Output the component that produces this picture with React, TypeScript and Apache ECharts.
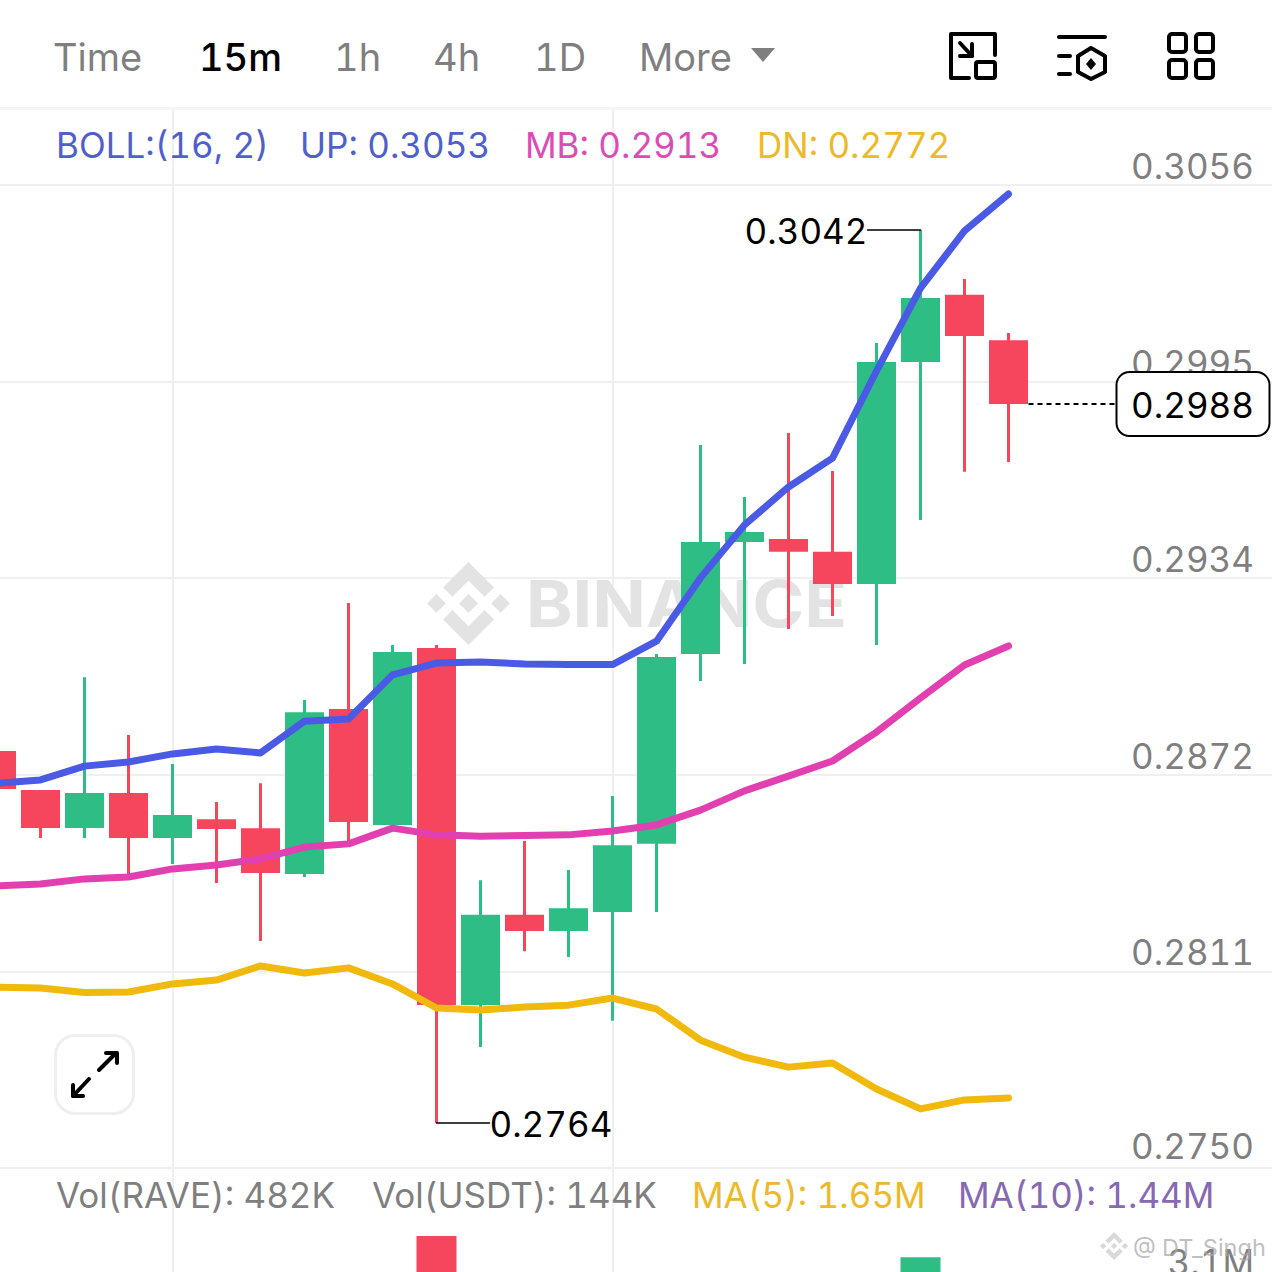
import React, { useEffect, useRef } from "react";
import * as echarts from "echarts";

const FONT = "Inter";
const categories = ["c00","c01","c02","c03","c04","c05","c06","c07","c08","c09","c10","c11","c12","c13","c14","c15","c16","c17","c18","c19","c20","c21","c22","c23","p1","p2","p3","p4","p5","p6"];

// [open, close, low, high]
const candles: number[][] = [
  [0.28798,0.28680,0.28670,0.28817],
  [0.28677,0.28558,0.28527,0.28677],
  [0.28558,0.28667,0.28527,0.29028],
  [0.28667,0.28527,0.28412,0.28848],
  [0.28527,0.28599,0.28446,0.28758],
  [0.28586,0.28555,0.28387,0.28639],
  [0.28558,0.28418,0.28207,0.28698],
  [0.28415,0.28919,0.28406,0.28957],
  [0.28929,0.28577,0.28505,0.29259],
  [0.28568,0.29106,0.28558,0.29128],
  [0.29119,0.28007,0.27640,0.29128],
  [0.28007,0.28288,0.27877,0.28396],
  [0.28288,0.28238,0.28175,0.28518],
  [0.28238,0.28309,0.28157,0.28428],
  [0.28297,0.28505,0.27958,0.28658],
  [0.28509,0.29091,0.28297,0.29100],
  [0.29100,0.29449,0.29016,0.29751],
  [0.29449,0.29480,0.29069,0.29589],
  [0.29458,0.29418,0.29178,0.29788],
  [0.29418,0.29318,0.29218,0.29670],
  [0.29318,0.30009,0.29128,0.30068],
  [0.30009,0.30208,0.29517,0.30420],
  [0.30218,0.30090,0.29667,0.30267],
  [0.30077,0.29878,0.29698,0.30099],
];
const bollUp = [0.28698,0.28708,0.28751,0.28764,0.28789,0.28804,0.28792,0.28891,0.28898,0.29035,0.29072,0.29075,0.29069,0.29067,0.29067,0.29140,0.29337,0.29502,0.29620,0.29710,0.29981,0.30239,0.30417,0.30532];
const bollMb = [0.28378,0.28384,0.28400,0.28406,0.28431,0.28443,0.28462,0.28499,0.28509,0.28558,0.28537,0.28533,0.28535,0.28537,0.28549,0.28568,0.28614,0.28674,0.28720,0.28767,0.28857,0.28963,0.29066,0.29125];
const bollDn = [0.28063,0.28060,0.28046,0.28048,0.28073,0.28085,0.28129,0.28107,0.28123,0.28073,0.27998,0.27992,0.28001,0.28007,0.28029,0.27995,0.27898,0.27845,0.27814,0.27827,0.27746,0.27684,0.27712,0.27718];
const volumes = [900000,800000,1000000,900000,700000,600000,1100000,2400000,1800000,2600000,4270000,1900000,900000,800000,1500000,2900000,2200000,1600000,1300000,1000000,2800000,3720000,1700000,482000];

const priceAxisValues = [0.2750,0.28112,0.28724,0.29336,0.29948,0.3056];
const volTicks = [3100000];
const verticalGridIdx = [4,14];

const HIGH = { idx: 21, value: 0.3042 };
const LOW = { idx: 10, value: 0.2764 };
const LAST = { idx: 23, value: 0.29878, label: "0.2988" };

const tabs = [
  { t: "Time", x: 53, c: "#7F7F7F", w: 400, s: 38 },
  { t: "15m", x: 199, c: "#000000", w: 500, s: 38 },
  { t: "1h", x: 334, c: "#7F7F7F", w: 400, s: 38 },
  { t: "4h", x: 433, c: "#7F7F7F", w: 400, s: 38 },
  { t: "1D", x: 534, c: "#7F7F7F", w: 400, s: 38 },
  { t: "More", x: 639, c: "#7F7F7F", w: 400, s: 38 },
];
const bollLegend = [
  { t: "BOLL:(16, 2)", x: 56, c: "#4F5FCB" },
  { t: "UP: 0.3053", x: 300, c: "#4F5FCB" },
  { t: "MB: 0.2913", x: 525, c: "#DB4DB4" },
  { t: "DN: 0.2772", x: 757, c: "#EDB92A" },
];
const volLegend = [
  { t: "Vol(RAVE): 482K", x: 56, c: "#7F7F7F" },
  { t: "Vol(USDT): 144K", x: 372, c: "#7F7F7F" },
  { t: "MA(5): 1.65M", x: 692, c: "#EDB92A" },
  { t: "MA(10): 1.44M", x: 958, c: "#8768B2" },
];

const LOGO = "M38.73 53.2l24.59-24.58 24.6 24.6 14.3-14.31L63.32 0 24.41 38.9l14.32 14.3zM0 63.31l14.3-14.31 14.31 14.31-14.31 14.3zM38.73 73.41l24.59 24.59 24.6-24.6 14.31 14.29-38.9 38.91-38.91-38.88-.02-.02zM97.99 63.32l14.3-14.31 14.32 14.3-14.32 14.32zM77.83 63.3 63.32 48.78 52.59 59.51l-1.24 1.23-2.54 2.54 14.51 14.52 14.51-14.5z";
echarts.graphic.registerShape("bnbLogo", echarts.graphic.extendPath(LOGO as any, {}) as any);

const GREEN = "#2EBD85";
const RED = "#F6465D";
const GRID = "#F0F0F0";
const SZ = 35;
const BORDER_INSET = 0.000047; // half of the 3px candle border, in price units

const label = (t: string, x: number, y: number, c: string, size = SZ, w: number = 400, align = "left", z = 20) => ({
  type: "text", x, y, z,
  style: { text: t, fill: c, font: `${w} ${size}px ${FONT}`, textAlign: align, textVerticalAlign: "middle" },
});
const stroke = (c: string, w = 4) => ({ stroke: c, lineWidth: w, lineCap: "round", lineJoin: "round", fill: "none" });
const poly = (pts: number[][], c = "#000", w = 4, z = 20) => ({ type: "polyline", z, shape: { points: pts }, style: stroke(c, w) });
const box = (x: number, y: number, width: number, height: number, r: number, c = "#000", w = 4, fill = "none", z = 20) => ({
  type: "rect", z, shape: { x, y, width, height, r }, style: { ...stroke(c, w), fill },
});

function staticGraphics(): any[] {
  return [
    { type: "rect", z: 1, shape: { x: 0, y: 107, width: 1272, height: 3 }, style: { fill: "#F5F5F5" } },
    ...tabs.map((a) => label(a.t, a.x, 57, a.c, a.s, a.w, "left", 20)),
    { type: "polygon", z: 20, shape: { points: [[751, 48], [775, 48], [763, 62]] }, style: { fill: "#7F7F7F" } },
    // icon 1
    poly([[995, 55], [995, 34], [951, 34], [951, 78], [969, 78]]),
    box(976, 62, 19, 16, 2),
    poly([[960, 43], [972, 56]]),
    poly([[972, 44], [972, 56], [960, 56]]),
    // icon 2
    poly([[1059, 37], [1105, 37]]),
    poly([[1059, 56], [1070, 56]]),
    poly([[1059, 74], [1070, 74]]),
    { type: "polygon", z: 20, shape: { points: [[1091, 48], [1105, 56], [1105, 72], [1091, 79], [1078, 72], [1078, 56]] }, style: stroke("#000", 4) },
    { type: "polygon", z: 20, shape: { points: [[1091, 58], [1096, 64], [1091, 70], [1086, 64]] }, style: { fill: "#000" } },
    // icon 3
    box(1169, 34, 17, 18, 3), box(1196, 34, 17, 18, 3), box(1169, 60, 17, 18, 3), box(1196, 60, 17, 18, 3),
    ...bollLegend.map((a) => label(a.t, a.x, 145, a.c)),
    ...volLegend.map((a) => label(a.t, a.x, 1195, a.c)),
    // watermark
    { type: "bnbLogo", z: 0, x: 427, y: 562, scaleX: 0.655, scaleY: 0.655, style: { fill: "#E3E3E3" } },
    { type: "text", z: 0, x: 526, y: 604, scaleX: 1.1, style: { text: "BINANCE", fill: "#E3E3E3", font: `700 64px ${FONT}`, textVerticalAlign: "middle" } },
    // expand button
    box(55.5, 1035.5, 78, 78, 20, "#EFEFEF", 3, "#FFFFFF"),
    poly([[99, 1070], [116, 1053]]),
    poly([[106, 1053], [117, 1053], [117, 1063]]),
    poly([[89, 1079], [73, 1096]]),
    poly([[73, 1085], [73, 1096], [83, 1096]]),
    // author watermark
    { type: "bnbLogo", z: 15, x: 1100, y: 1232, scaleX: 0.222, scaleY: 0.222, style: { fill: "#D9D9D9" } },
    label("@ DT_Singh", 1133, 1247, "rgba(170,170,170,0.75)", 23.5, 400, "left", 25),
  ];
}

export default function App() {
  const ref = useRef<HTMLDivElement | null>(null);
  useEffect(() => {
    document.body.style.margin = "0";
    const chart = echarts.init(ref.current!, undefined, { renderer: "svg" });
    const gridLeft = -25.5;
    const gridWidth = 44 * categories.length;
    const xBase = (gridIndex: number) => ({
      type: "category", gridIndex, data: categories, boundaryGap: true,
      axisLine: { show: false }, axisTick: { show: false }, axisLabel: { show: false },
      splitLine: {
        show: true, alignWithLabel: true,
        interval: (i: number) => verticalGridIdx.includes(i),
        lineStyle: { color: GRID, width: 2 },
      },
    });
    const pxPerUnit = 983 / 0.0306;
    const axisText = { color: "#7F7F7F", fontFamily: FONT, fontSize: SZ };
    const option: any = {
      animation: false,
      backgroundColor: "#FFFFFF",
      grid: [
        { left: gridLeft, top: 110, width: gridWidth, height: 1058, outerBoundsMode: "none" },
        { left: gridLeft, top: 1168, width: gridWidth, height: 232, outerBoundsMode: "none" },
      ],
      xAxis: [xBase(0), xBase(1)],
      yAxis: [
        {
          type: "value", gridIndex: 0, position: "right", scale: true,
          min: 0.2750, max: 0.3056 + 75 / pxPerUnit,
          axisLine: { show: false },
          axisTick: { show: false, customValues: priceAxisValues },
          splitLine: { show: true, lineStyle: { color: GRID, width: 2 } },
          axisLabel: {
            inside: true, margin: 40.5, customValues: priceAxisValues,
            formatter: (v: number) => (v <= priceAxisValues[0] ? `{low|${v.toFixed(4)}}` : v.toFixed(4)),
            ...axisText, align: "right", verticalAlign: "bottom", lineHeight: 38,
            rich: { low: { ...axisText, lineHeight: 38, padding: [0, 0, 6, 0] } },
          },
        },
        {
          type: "value", gridIndex: 1, position: "right", min: 0, max: 6044000,
          axisLine: { show: false },
          axisTick: { show: false, customValues: volTicks },
          splitLine: { show: false },
          axisLabel: {
            inside: true, margin: 40.5, customValues: volTicks,
            formatter: (v: number) => (v / 1e6).toFixed(1) + "M",
            ...axisText, align: "right", verticalAlign: "bottom", lineHeight: 38,
          },
        },
      ],
      series: [
        {
          type: "candlestick", name: "K", xAxisIndex: 0, yAxisIndex: 0, barWidth: 37, z: 2,
          data: candles.map(([o, c, l, h]) => {
            const d = c >= o ? BORDER_INSET : -BORDER_INSET;
            return [o + d, c - d, l, h];
          }),
          itemStyle: { color: GREEN, color0: RED, borderColor: GREEN, borderColor0: RED, borderWidth: 3 },
        },
        ...[
          { name: "UP", data: bollUp, color: "#4A5AE5" },
          { name: "MB", data: bollMb, color: "#E23FB0" },
          { name: "DN", data: bollDn, color: "#F0B90B" },
        ].map((s) => ({
          type: "line", name: s.name, xAxisIndex: 0, yAxisIndex: 0, data: s.data, showSymbol: false, symbol: "none", z: 3,
          lineStyle: { color: s.color, width: 7, cap: "round", join: "round" },
        })),
        {
          type: "bar", name: "Vol", xAxisIndex: 1, yAxisIndex: 1, barWidth: 40,
          data: volumes.map((v, i) => ({
            value: v,
            itemStyle: { color: candles[i][1] >= candles[i][0] ? GREEN : RED },
          })),
        },
      ],
      graphic: { elements: staticGraphics() },
    };
    chart.setOption(option);

    const toPx = (i: number, v: number) => chart.convertToPixel({ xAxisIndex: 0, yAxisIndex: 0 }, [i, v]) as number[];
    const hi = toPx(HIGH.idx, HIGH.value);
    const lo = toPx(LOW.idx, LOW.value);
    const la = toPx(LAST.idx, LAST.value);
    chart.setOption({
      graphic: {
        elements: [
          ...staticGraphics(),
          poly([[hi[0], hi[1]], [hi[0] - 53, hi[1]]], "#000", 1.5, 21),
          label(HIGH.value.toFixed(4), hi[0] - 53, hi[1] + 1, "#000", SZ, 400, "right", 21),
          poly([[lo[0], lo[1]], [lo[0] + 53, lo[1]]], "#000", 1.5, 21),
          label(LOW.value.toFixed(4), lo[0] + 53, lo[1] + 1, "#000", SZ, 400, "left", 21),
          { type: "line", z: 21, shape: { x1: la[0] + 20, y1: la[1], x2: 1117, y2: la[1] }, style: { stroke: "#000", lineWidth: 2, lineDash: [5, 4] } },
          box(1116.5, la[1] - 32, 153, 64, 13, "#000", 2, "#FFFFFF", 22),
          label(LAST.label, 1254, la[1] + 1, "#000", SZ, 400, "right", 23),
        ],
      },
    }, { replaceMerge: ["graphic"] });
    return () => chart.dispose();
  }, []);
  return (
    <>
      <style>{`svg text { font-variant-numeric: tabular-nums !important; font-feature-settings: "tnum" 1 !important; }`}</style>
      <div ref={ref} style={{ width: 1272, height: 1272, position: "absolute", left: 0, top: 0, overflow: "hidden" }} />
    </>
  );
}
